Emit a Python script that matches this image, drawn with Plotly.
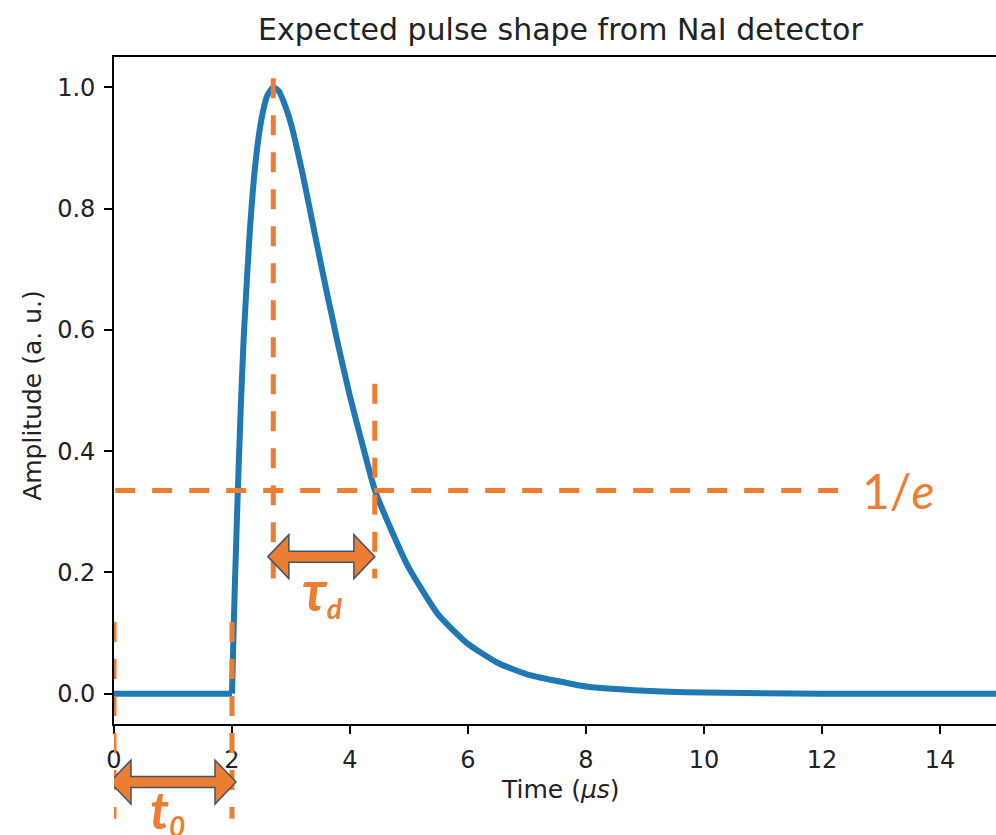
import plotly.graph_objects as go

# ---- data ----
base_time = [0.0, 2.0]
base_amp = [0.0, 0.0]

pulse_time = [2.0, 2.025, 2.05, 2.10, 2.15, 2.20, 2.30, 2.40, 2.50, 2.60, 2.70, 2.80, 2.90,
              3.0, 3.2, 3.4, 3.6, 3.8, 4.0, 4.2, 4.42, 4.7, 5.0, 5.5, 6.0, 6.5, 7.0, 8.0,
              9.0, 10.0, 12.0, 15.0]
pulse_amp = [0.0, 0.095, 0.183, 0.338, 0.475, 0.59, 0.76, 0.877, 0.948, 0.987, 1.0, 0.993, 0.97,
             0.94, 0.856, 0.76, 0.665, 0.575, 0.49, 0.415, 0.336, 0.27, 0.207, 0.13, 0.082, 0.051,
             0.032, 0.012, 0.005, 0.002, 0.0, 0.0]

x_ticks = [0, 2, 4, 6, 8, 10, 12, 14]
y_ticks = [0.0, 0.2, 0.4, 0.6, 0.8, 1.0]

# annotation values
t0 = 2.0
t_peak = 2.7
t_1e = 4.42
level_1e = 0.335
level_end_x = 12.4

ORANGE = "#ED7D31"
OUTLINE = "#44546A"
BLUE = "#1f77b4"
TXT = "#222222"
DASH = "20px,17px"

fig = go.Figure()
fig.add_trace(go.Scatter(x=base_time, y=base_amp, mode="lines",
                         line=dict(color=BLUE, width=6), hoverinfo="skip", showlegend=False))
fig.add_trace(go.Scatter(x=pulse_time, y=pulse_amp, mode="lines",
                         line=dict(color=BLUE, width=6, shape="spline", smoothing=0.5),
                         hoverinfo="skip", showlegend=False))

W, H = 996, 835
L, R, T, B = 114, 0, 57, 111

fig.update_layout(
    width=W, height=H,
    margin=dict(l=L, r=R, t=T, b=B),
    paper_bgcolor="white", plot_bgcolor="white",
    font=dict(family="DejaVu Sans", color=TXT),
    showlegend=False,
)

fig.update_xaxes(range=[0, 14.95], tickvals=x_ticks, ticktext=[str(v) for v in x_ticks],
                 showgrid=False, zeroline=False, showline=True, linecolor="black", linewidth=1.8,
                 mirror=True, ticks="outside", ticklen=8, tickwidth=1.8, tickcolor="black",
                 tickfont=dict(size=24, color=TXT), ticklabelstandoff=5, automargin=False)
fig.update_yaxes(range=[-0.05, 1.05], tickvals=y_ticks, ticktext=[f"{v:.1f}" for v in y_ticks],
                 showgrid=False, zeroline=False, showline=True, linecolor="black", linewidth=1.8,
                 mirror=False, ticks="outside", ticklen=8, tickwidth=1.8, tickcolor="black",
                 tickfont=dict(size=24, color=TXT), ticklabelstandoff=4, automargin=False)

# title and axis titles
fig.add_annotation(text="Expected pulse shape from NaI detector", xref="paper", yref="paper",
                   x=0.5, y=1.0, xshift=5, yshift=8, xanchor="center", yanchor="bottom",
                   showarrow=False, font=dict(size=30, color=TXT))
fig.add_annotation(text="Time (<i>μs</i>)", xref="paper", yref="paper", x=0.5, y=-0.0975,
                   xshift=5, xanchor="center", yanchor="middle", showarrow=False,
                   font=dict(size=25, color=TXT))
fig.add_annotation(text="Amplitude (a. u.)", xref="paper", yref="paper", x=-0.0918, y=0.492,
                   textangle=-90, xanchor="center", yanchor="middle", showarrow=False,
                   font=dict(size=25, color=TXT))

dash_line = dict(color=ORANGE, width=5, dash=DASH)

# horizontal 1/e line
fig.add_shape(type="line", xref="x", yref="y", x0=0.02, x1=level_end_x, y0=level_1e, y1=level_1e,
              line=dash_line)
# vertical line at peak
fig.add_shape(type="line", xref="x", yref="y", x0=t_peak, x1=t_peak, y0=1.015, y1=0.19,
              line=dash_line)
# vertical line at 1/e crossing
fig.add_shape(type="line", xref="x", yref="y", x0=t_1e, x1=t_1e, y0=0.511, y1=0.19,
              line=dash_line)
# t0 lines (extend below the axis)
for xv in (0.0, t0):
    fig.add_shape(type="line", xref="x", yref="paper", x0=xv, x1=xv, y0=0.153, y1=-0.142,
                  line=dash_line)


def double_arrow(half_len, head_len=21, head_h=22, shaft_h=5.5):
    a, h, s, k = half_len, head_h, shaft_h, head_len
    pts = [(-a, 0), (-a + k, h), (-a + k, s), (a - k, s), (a - k, h), (a, 0),
           (a - k, -h), (a - k, -s), (-a + k, -s), (-a + k, -h)]
    return "M " + " L ".join(f"{x},{y}" for x, y in pts) + " Z"


# tau_d arrow
fig.add_shape(type="path", xref="x", yref="y", xsizemode="pixel", ysizemode="pixel",
              xanchor=(t_peak - 0.09 + t_1e) / 2, yanchor=0.226, path=double_arrow(53.5),
              fillcolor=ORANGE, line=dict(color=OUTLINE, width=1.5))
# t0 arrow
fig.add_shape(type="path", xref="x", yref="paper", xsizemode="pixel", ysizemode="pixel",
              xanchor=t0 / 2, yanchor=-0.087, path=double_arrow(63),
              fillcolor=ORANGE, line=dict(color=OUTLINE, width=1.5))

# labels
fig.add_annotation(text="1/<i>e</i>", xref="x", yref="y", x=12.65, y=level_1e, xanchor="left",
                   yanchor="middle", showarrow=False, font=dict(family="Lato", size=48, color=ORANGE))
fig.add_annotation(text="<b><i>τ<span style='font-size:40px'><sub>d</sub></span></i></b>",
                   xref="x", yref="y", x=(t_peak + t_1e) / 2 - 0.02, y=0.17, xanchor="center",
                   yanchor="middle", showarrow=False, font=dict(family="Lato", size=56, color=ORANGE))
fig.add_annotation(text="<b><i>t<span style='font-size:40px'><sub>0</sub></span></i></b>",
                   xref="paper", yref="paper", x=(167 - L) / (W - L), y=(724 - 810) / 667,
                   xanchor="center", yanchor="middle", showarrow=False,
                   font=dict(family="Lato", size=52, color=ORANGE))

fig.write_html("out.html")
